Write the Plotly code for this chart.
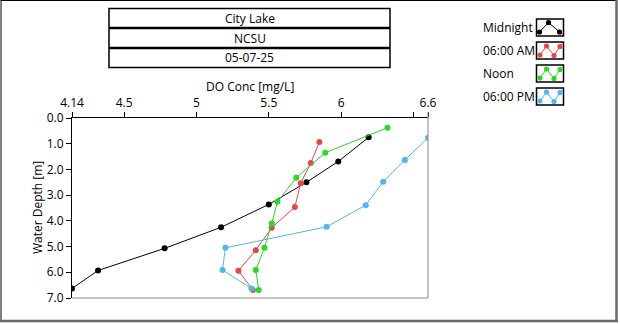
import plotly.graph_objects as go

# ---- data ----
series_names = ["Midnight", "06:00 AM", "Noon", "06:00 PM"]
midnight_do = [6.19, 5.98, 5.76, 5.50, 5.17, 4.78, 4.32, 4.14]
midnight_depth = [0.75, 1.69, 2.50, 3.36, 4.25, 5.07, 5.93, 6.63]
am6_do = [5.85, 5.79, 5.72, 5.68, 5.52, 5.41, 5.29, 5.39]
am6_depth = [0.93, 1.75, 2.54, 3.46, 4.27, 5.14, 5.94, 6.69]
noon_do = [6.32, 5.89, 5.69, 5.56, 5.52, 5.47, 5.41, 5.43]
noon_depth = [0.38, 1.35, 2.32, 3.26, 4.10, 5.05, 5.91, 6.69]
pm6_do = [6.60, 6.44, 6.29, 6.17, 5.90, 5.20, 5.18, 5.38]
pm6_depth = [0.77, 1.63, 2.48, 3.39, 4.23, 5.05, 5.91, 6.63]

x_tickvals = [4.14, 4.5, 5, 5.5, 6, 6.5, 6.6]
x_ticktext = ["4.14", "4.5", "5", "5.5", "6", "", "6.6"]
y_tickvals = [0, 1, 2, 3, 4, 5, 6, 7]
y_ticktext = ["0.0", "1.0", "2.0", "3.0", "4.0", "5.0", "6.0", "7.0"]
title_rows = ["City Lake", "NCSU", "05-07-25"]

colors = ["#000000", "#E8474A", "#22DD22", "#4DB8EE"]
all_do = [midnight_do, am6_do, noon_do, pm6_do]
all_depth = [midnight_depth, am6_depth, noon_depth, pm6_depth]

W, H = 620, 324
L, R, T, B = 72, 428, 118, 298
FONT = "Open Sans"


def px(x):
    return (x - L) / (R - L)


def py(y):
    return (B - y) / (B - T)


fig = go.Figure()
for name, xs, ys, c in zip(series_names, all_do, all_depth, colors):
    fig.add_trace(go.Scatter(
        x=xs, y=ys, mode="lines+markers", name=name,
        line=dict(color=c, width=1),
        marker=dict(color=c, size=6, symbol="circle"),
        cliponaxis=True, showlegend=False,
    ))

shapes = []
annotations = []

# outer frame
shapes.append(dict(type="line", xref="paper", yref="paper", x0=px(0.5), x1=px(616), y0=py(0.5), y1=py(0.5), line=dict(color="#000000", width=1)))
shapes.append(dict(type="line", xref="paper", yref="paper", x0=px(1), x1=px(1), y0=py(0.5), y1=py(321), line=dict(color="#000000", width=1)))
shapes.append(dict(type="line", xref="paper", yref="paper", x0=px(616.5), x1=px(616.5), y0=py(0), y1=py(322), line=dict(color="#6A6A6A", width=2.5)))
shapes.append(dict(type="line", xref="paper", yref="paper", x0=px(0), x1=px(618), y0=py(321), y1=py(321), line=dict(color="#6A6A6A", width=2.5)))

# plot frame: right and bottom gray
shapes.append(dict(type="line", xref="paper", yref="paper", x0=1, x1=1, y0=0, y1=py(T - 6), line=dict(color="#8A8A8A", width=1)))
shapes.append(dict(type="line", xref="paper", yref="paper", x0=0, x1=1, y0=0, y1=0, line=dict(color="#8A8A8A", width=1)))

# title boxes
bx0, bx1 = 109, 390
row_edges = [8.5, 28, 48, 67.5]
shapes.append(dict(type="rect", xref="paper", yref="paper", x0=px(bx0), x1=px(bx1), y0=py(row_edges[-1]), y1=py(row_edges[0]), line=dict(color="#000000", width=1.5)))
for e in row_edges[1:-1]:
    shapes.append(dict(type="line", xref="paper", yref="paper", x0=px(bx0), x1=px(bx1), y0=py(e), y1=py(e), line=dict(color="#000000", width=2.5)))
for i, txt in enumerate(title_rows):
    yc = (row_edges[i] + row_edges[i + 1]) / 2
    annotations.append(dict(text=txt, xref="paper", yref="paper", x=px((bx0 + bx1) / 2), y=py(yc), showarrow=False, xanchor="center", yanchor="middle", font=dict(family=FONT, size=12, color="#000000")))

# custom legend
leg_tops = [19, 42, 65, 88]
ix0, ix1, ih = 536.5, 563.5, 17
for name, c, top in zip(series_names, colors, leg_tops):
    annotations.append(dict(text=name, xref="paper", yref="paper", x=px(481), y=py(top + ih / 2), showarrow=False, xanchor="left", yanchor="middle", font=dict(family=FONT, size=12, color="#000000")))
    shapes.append(dict(type="rect", xref="paper", yref="paper", x0=px(ix0), x1=px(ix1), y0=py(top + ih), y1=py(top), line=dict(color="#000000", width=1.5), fillcolor="#FFFFFF"))
    if name == "Midnight":
        pts = [(ix0 + 3, top + 13), (ix0 + 12, top + 3.5), (ix0 + 23, top + 13)]
        line_pts = [(ix0 + 1, top + 15)] + pts + [(ix1 - 1, top + 15)]
    else:
        pts = [(ix0 + 3.5, top + 13), (ix0 + 10, top + 4), (ix0 + 17.5, top + 13.5), (ix0 + 23.5, top + 4.5)]
        line_pts = [(ix0 + 1, top + 15.5)] + pts + [(ix1 - 1, top + 1.5)]
    path = "M " + " L ".join(f"{px(a):.5f},{py(b):.5f}" for a, b in line_pts)
    shapes.append(dict(type="path", xref="paper", yref="paper", path=path, line=dict(color=c, width=1)))
    for a, b in pts:
        r = 2.6
        shapes.append(dict(type="circle", xref="paper", yref="paper", x0=px(a - r), x1=px(a + r), y0=py(b + r), y1=py(b - r), line=dict(color=c, width=0), fillcolor=c))

# axis titles
annotations.append(dict(text="DO Conc [mg/L]", xref="paper", yref="paper", x=0.5, y=py(87), showarrow=False, xanchor="center", yanchor="middle", font=dict(family=FONT, size=12, color="#000000")))
annotations.append(dict(text="Water Depth [m]", xref="paper", yref="paper", x=px(37), y=0.5, showarrow=False, textangle=-90, xanchor="center", yanchor="middle", font=dict(family=FONT, size=12, color="#000000")))

fig.update_layout(
    width=W, height=H,
    margin=dict(l=L, r=W - R, t=T, b=H - B, pad=0),
    paper_bgcolor="#FFFFFF", plot_bgcolor="#FFFFFF",
    shapes=shapes, annotations=annotations,
    showlegend=False,
    font=dict(family=FONT, size=12, color="#000000"),
    xaxis=dict(
        side="top", range=[4.14, 6.6], tickvals=x_tickvals, ticktext=x_ticktext,
        showgrid=False, zeroline=False, showline=True, linecolor="#000000", linewidth=1,
        ticks="outside", ticklen=5, tickcolor="#000000", tickwidth=1,
        tickfont=dict(family=FONT, size=12, color="#000000"),
    ),
    yaxis=dict(
        range=[7, 0], tickvals=y_tickvals, ticktext=y_ticktext,
        showgrid=False, zeroline=False, showline=True, linecolor="#000000", linewidth=1,
        ticks="outside", ticklen=5, tickcolor="#000000", tickwidth=1,
        tickfont=dict(family=FONT, size=12, color="#000000"),
    ),
)

fig.write_html("out.html")
